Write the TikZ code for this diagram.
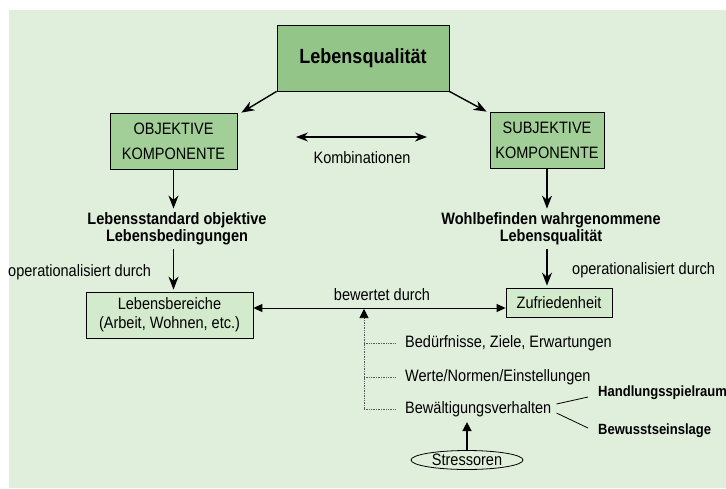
\documentclass[tikz,border=0pt]{standalone}
\usepackage{fontspec}
\setmainfont{Liberation Sans}[FakeStretch=0.88]
\usetikzlibrary{arrows.meta,shapes.geometric,positioning}
\definecolor{panelgreen}{HTML}{E0EEDC}
\definecolor{maingreen}{HTML}{94C588}
\definecolor{kompgreen}{HTML}{A2CF97}
\definecolor{areagreen}{HTML}{D3EACC}

\begin{document}
\begin{tikzpicture}[x=1pt, y=-1pt,
  font=\fontsize{16.5}{19}\selectfont,
  mainbox/.style={rectangle, draw, line width=0.8pt, fill=maingreen, minimum width=172pt, minimum height=66pt, font=\fontsize{20.5}{22}\selectfont\bfseries},
  komp/.style={rectangle, draw, line width=0.8pt, fill=kompgreen, minimum height=56pt, align=center, inner sep=0pt, font=\fontsize{16.5}{25}\selectfont},
  area/.style={rectangle, draw, line width=0.8pt, fill=areagreen, align=center, inner sep=0pt},
  txt/.style={inner sep=0pt},
  boldtxt/.style={inner sep=4pt, align=center, font=\fontsize{16.5}{17}\selectfont\bfseries},
  sidetxt/.style={inner sep=0pt, anchor=west, font=\fontsize{14.8}{17}\selectfont\bfseries},
  arr/.style={-{Stealth[length=13pt, width=10pt]}, line width=1.4pt},
  dblarr/.style={{Stealth[length=12pt, width=9pt]}-{Stealth[length=12pt, width=9pt]}, line width=1.6pt},
  harr/.style={{Triangle[length=9pt, width=8pt]}-{Triangle[length=9pt, width=8pt]}, line width=0.9pt},
  uparr/.style={-{Triangle[length=9pt, width=9pt]}, line width=1.6pt},
  dotline/.style={densely dotted, line width=0.7pt, gray!70!black}]
\useasboundingbox (0,0) rectangle (726,488);
\fill[panelgreen] (9,10) rectangle (726,488);
\node[mainbox] (lq) at (363,58) {Lebensqualität};
\node[komp, minimum width=127pt] (obj) at (173.5,141) {OBJEKTIVE\\KOMPONENTE};
\node[komp, minimum width=114pt] (subj) at (547,140) {SUBJEKTIVE\\KOMPONENTE};
\coordinate (kombl) at (296,137);
\coordinate (kombr) at (427,137);
\node[txt] (komb) at (362,158) {Kombinationen};
\node[boldtxt] (lstd) at (177,229) {Lebensstandard objektive\\Lebensbedingungen};
\node[boldtxt] (wohl) at (551,229) {Wohlbefinden wahrgenommene\\Lebensqualität};
\node[txt, anchor=west] (opl) at (8,272) {operationalisiert durch};
\node[txt, anchor=west] (opr) at (572,270) {operationalisiert durch};
\node[area, minimum width=167pt, minimum height=46pt] (lb) at (169.5,315) {Lebensbereiche\\(Arbeit, Wohnen, etc.)};
\node[area, minimum width=106pt, minimum height=29pt] (zuf) at (559,302.5) {Zufriedenheit};
\node[txt] (bd) at (382,295) {bewertet durch};
\coordinate (bw) at (364,308);
\node[txt, anchor=west] (need) at (405,343) {Bedürfnisse, Ziele, Erwartungen};
\node[txt, anchor=west] (norm) at (405,377) {Werte/Normen/Einstellungen};
\node[txt, anchor=west] (bew) at (405,409) {Bewältigungsverhalten};
\node[sidetxt] (hsr) at (598,393) {Handlungsspielraum};
\node[sidetxt] (bsl) at (598,431) {Bewusstseinslage};
\node[ellipse, draw, line width=0.8pt, minimum width=112pt, minimum height=19pt, inner sep=0pt] (str) at (467,460) {Stressoren};
% Verbindungen
\draw[arr] (lq.south west) -- ([xshift=4pt]obj.north east);
\draw[arr] (lq.south east) -- ([xshift=-3pt]subj.north west);
\draw[dblarr] (kombl) -- (kombr);
\draw[arr] (obj.south) -- (obj.south |- lstd.north);
\draw[arr] (lstd.south -| obj.south) -- ([yshift=2pt]lb.north -| obj.south);
\draw[arr] (subj.south) -- (subj.south |- wohl.north);
\draw[arr] (wohl.south -| subj.south) -- ([yshift=2pt]zuf.north -| subj.south);
\draw[harr] (lb.east |- bw) -- (zuf.west |- bw);
\draw[dotline] (bw |- bew.west) -- ([yshift=-5pt]bw);
\draw[-{Triangle[length=9pt, width=9pt]}, line width=0.6pt] ([yshift=-9pt]bw) -- ([yshift=-1pt]bw);
\draw[dotline] (bw |- need.west) -- ([xshift=-10pt]need.west);
\draw[dotline] (bw |- norm.west) -- ([xshift=-10pt]norm.west);
\draw[dotline] (bw |- bew.west) -- ([xshift=-10pt]bew.west);
\draw[line width=0.8pt] ([xshift=5pt, yshift=5pt]bew.east) -- ([xshift=-10pt, yshift=-4pt]hsr.west);
\draw[line width=0.8pt] ([xshift=5pt, yshift=-4pt]bew.east) -- ([xshift=-10pt, yshift=3pt]bsl.west);
\draw[uparr] (str.north) -- ++(0,-28);
\end{tikzpicture}
\end{document}
